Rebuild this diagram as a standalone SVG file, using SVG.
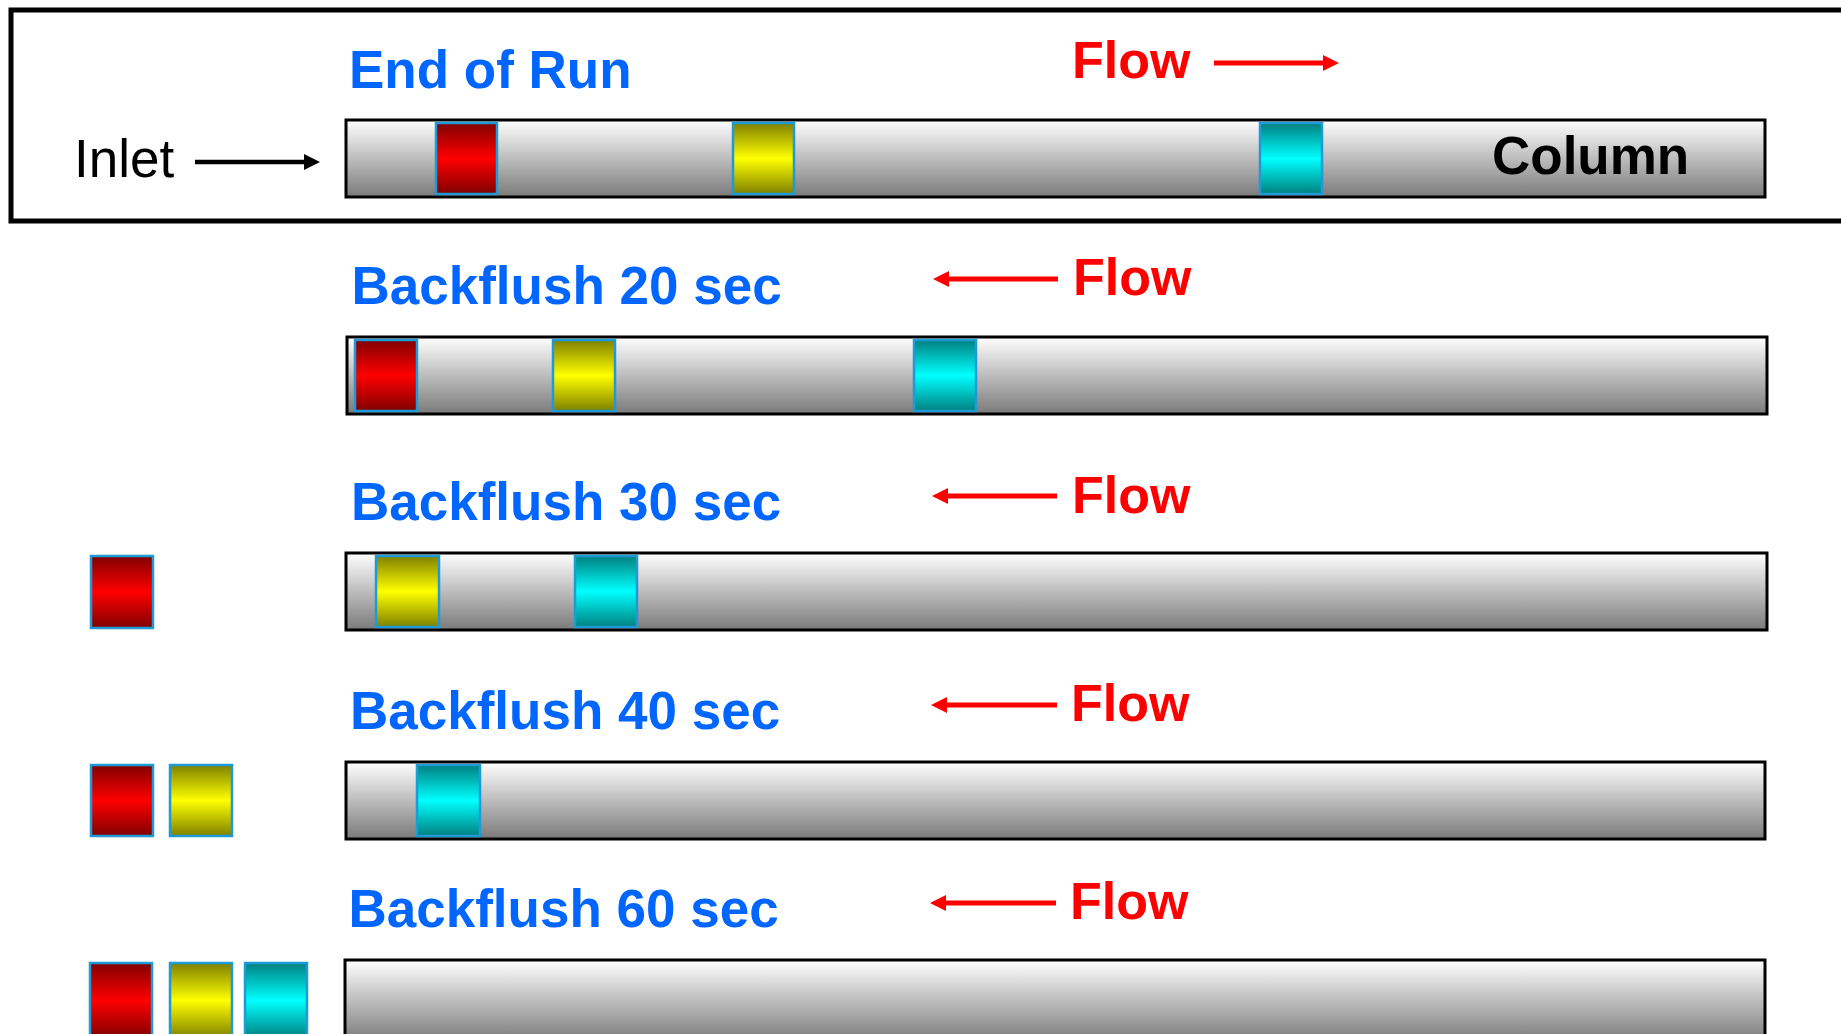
<svg xmlns="http://www.w3.org/2000/svg" width="1841" height="1034" viewBox="0 0 1841 1034">
<defs>
<linearGradient id="gCol" x1="0" y1="0" x2="0" y2="1"><stop offset="0" stop-color="#ffffff"/><stop offset="1" stop-color="#7a7a7a"/></linearGradient>
<linearGradient id="gRed" x1="0" y1="0" x2="0" y2="1"><stop offset="0" stop-color="#800000"/><stop offset="0.5" stop-color="#ff0000"/><stop offset="1" stop-color="#800000"/></linearGradient>
<linearGradient id="gYel" x1="0" y1="0" x2="0" y2="1"><stop offset="0" stop-color="#808000"/><stop offset="0.5" stop-color="#ffff00"/><stop offset="1" stop-color="#808000"/></linearGradient>
<linearGradient id="gCya" x1="0" y1="0" x2="0" y2="1"><stop offset="0" stop-color="#008080"/><stop offset="0.5" stop-color="#00ffff"/><stop offset="1" stop-color="#008080"/></linearGradient>
<marker id="hRed" markerUnits="userSpaceOnUse" markerWidth="16" markerHeight="16" refX="2" refY="8" orient="auto"><path d="M0,0 L16,8 L0,16 z" fill="#ff0000"/></marker>
<marker id="hBlk" markerUnits="userSpaceOnUse" markerWidth="16" markerHeight="16" refX="2" refY="8" orient="auto"><path d="M0,0 L16,8 L0,16 z" fill="#000000"/></marker>
</defs>
<style>
.col{fill:url(#gCol);stroke:#000;stroke-width:3}
.sq{stroke:#1e9ad6;stroke-width:2.5}
.r{fill:url(#gRed)}.y{fill:url(#gYel)}.c{fill:url(#gCya)}
.title{font-family:"Liberation Sans",Arial,sans-serif;font-weight:bold;font-size:53px;fill:#0066ff}
.flow{font-family:"Liberation Sans",Arial,sans-serif;font-weight:bold;font-size:52px;fill:#ff0000}
.ra{stroke:#ff0000;stroke-width:5;fill:none;marker-end:url(#hRed)}
.ba{stroke:#000;stroke-width:4.5;fill:none;marker-end:url(#hBlk)}
</style>
<rect width="1841" height="1034" fill="#fff"/>
<rect id="frame" x="11" y="10" width="1845" height="211" fill="none" stroke="#000" stroke-width="5"/>

<g id="row1">
<text class="title" x="349" y="88">End of Run</text>
<text class="flow" x="1072" y="78">Flow</text>
<text x="74" y="177" font-family="Liberation Sans,Arial,sans-serif" font-size="53">Inlet</text>
<rect class="col" x="346" y="120" width="1419" height="77"/>
<rect class="sq r" x="436" y="123" width="61" height="71"/>
<rect class="sq y" x="733" y="123" width="61" height="71"/>
<rect class="sq c" x="1260" y="123" width="62" height="71"/>
<text x="1492" y="174" font-family="Liberation Sans,Arial,sans-serif" font-weight="bold" font-size="53">Column</text>
</g>

<g id="row2">
<text class="title" x="351.5" y="304">Backflush 20 sec</text>
<text class="flow" x="1073" y="295">Flow</text>
<rect class="col" x="347" y="337" width="1420" height="77"/>
<rect class="sq r" x="355" y="340" width="62" height="71"/>
<rect class="sq y" x="553" y="340" width="62" height="71"/>
<rect class="sq c" x="914" y="340" width="62" height="71"/>
</g>

<g id="row3">
<text class="title" x="351" y="520">Backflush 30 sec</text>
<text class="flow" x="1072" y="513">Flow</text>
<rect class="sq r" x="91" y="556" width="62" height="72"/>
<rect class="col" x="346" y="553" width="1421" height="77"/>
<rect class="sq y" x="376" y="556" width="63" height="71"/>
<rect class="sq c" x="575" y="556" width="62" height="71"/>
</g>

<g id="row4">
<text class="title" x="350" y="729">Backflush 40 sec</text>
<text class="flow" x="1071" y="721">Flow</text>
<rect class="sq r" x="91" y="765" width="62" height="71"/>
<rect class="sq y" x="170" y="765" width="62" height="71"/>
<rect class="col" x="346" y="762" width="1419" height="77"/>
<rect class="sq c" x="417" y="765" width="63" height="71"/>
</g>

<g id="row5">
<text class="title" x="348.5" y="927">Backflush 60 sec</text>
<text class="flow" x="1070" y="919">Flow</text>
<rect class="sq r" x="90" y="963" width="62" height="75"/>
<rect class="sq y" x="170" y="963" width="62" height="75"/>
<rect class="sq c" x="245" y="963" width="62" height="75"/>
<rect class="col" x="345" y="960" width="1420" height="82"/>
</g>

<g id="connectors">
<line class="ba" x1="195" y1="162" x2="306" y2="162"/>
<line class="ra" x1="1214" y1="63" x2="1325" y2="63"/>
<line class="ra" x1="1058" y1="279" x2="947" y2="279"/>
<line class="ra" x1="1057" y1="496" x2="946" y2="496"/>
<line class="ra" x1="1057" y1="705" x2="945" y2="705"/>
<line class="ra" x1="1056" y1="903" x2="944" y2="903"/>
</g>
</svg>
